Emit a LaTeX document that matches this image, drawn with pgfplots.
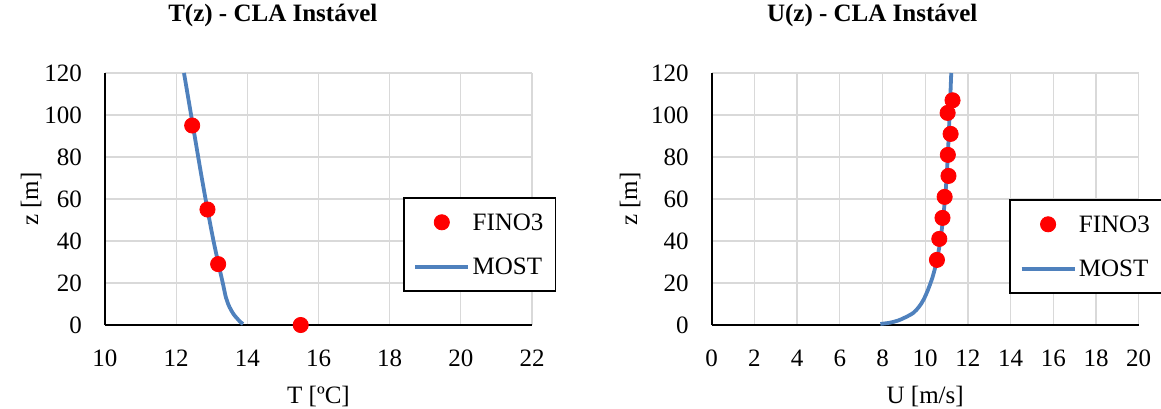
\documentclass[border=0pt]{standalone}
\usepackage{fontspec}
\setmainfont{Liberation Serif}
\usepackage{pgfplots}
\pgfplotsset{compat=1.18}

\definecolor{mostblue}{RGB}{79,129,189}
\definecolor{gridgray}{RGB}{217,217,217}

\newcommand{\chartfont}{\fontsize{12.5}{15}\selectfont}

\pgfplotsset{
  profile/.style={
    scale only axis, width=213.5pt, height=126pt,
    anchor=south west,
    axis lines*=left, axis line style={-, line width=1pt, black},
    ymin=0, ymax=120, ytick={0,20,...,120},
    grid=major, grid style={gridgray, line width=0.65pt},
    major tick length=0pt,
    tick label style={font=\chartfont},
    /pgf/number format/assume math mode=true,
    yticklabel style={xshift=-8pt},
    xticklabel style={yshift=-9pt},
    label style={font=\chartfont},
    ylabel={z [m]},
    title style={font=\bfseries\chartfont, anchor=center},
    xlabel style={at={(0.5,-0.282)}, anchor=center},
    clip=false,
    legend cell align=left,
    legend style={anchor=north west, draw=black, line width=0.9pt, fill=white,
      inner xsep=4.75pt, inner ysep=6.1pt, row sep=10pt,
      nodes={inner xsep=1.25pt, inner ysep=0pt, text height=10.2pt,
        text depth=2pt, font=\chartfont}},
    legend image code/.code={
      \draw[mark repeat=2, mark phase=2, #1]
        plot coordinates {(0cm,0cm) (0.465cm,0cm) (0.93cm,0cm)};},
  },
  fino/.style={only marks, mark=*, mark size=3.8pt, color=red,
    mark options={draw=red, fill=red, line width=0.4pt}},
  most/.style={color=mostblue, line width=1.9pt, smooth, no marks},
}

\begin{document}
\begin{tikzpicture}
\useasboundingbox (0,0) rectangle (580.5pt,204pt);

% Temperature profile
\begin{axis}[profile,
    at={(52.5pt,41.5pt)},
    xmin=10, xmax=22, xtick={10,12,...,22},
    xlabel={T [ºC]},
    ylabel style={at={(-0.173,0.5)}, anchor=center},
    title={T(z) - CLA Instável},
    title style={at={(0.393,1.179)}},
    legend style={at={(0.698,0.508)}},
  ]
  \addlegendimage{fino}
  \addlegendentry{FINO3}
  \addlegendimage{most}
  \addlegendentry{MOST}
  \addplot[most, forget plot] coordinates {
    (13.88,0.5) (13.80,1.5) (13.72,3) (13.62,5) (13.50,8.5) (13.40,13)
    (13.31,20) (13.19,29) (13.05,40) (12.88,55) (12.70,72) (12.47,95)
    (12.22,120)};
  \addplot[fino, forget plot] coordinates {
    (12.45,95) (12.88,55) (13.18,29) (15.5,0)};
\end{axis}

% Wind speed profile
\begin{axis}[profile,
    at={(355.85pt,41.5pt)},
    xmin=0, xmax=20, xtick={0,2,...,20},
    xlabel={U [m/s]},
    ylabel style={at={(-0.191,0.5)}, anchor=center},
    title={U(z) - CLA Instável},
    title style={at={(0.376,1.179)}},
    legend style={at={(0.697,0.5)}},
  ]
  \addplot[fino] coordinates {
    (11.28,107) (11.05,101) (11.19,91) (11.06,81) (11.09,71)
    (10.91,61) (10.81,51) (10.66,41) (10.55,31)};
  \addlegendentry{FINO3}
  \addplot[most] coordinates {
    (7.9,0.5) (8.35,1.1) (8.75,2.2) (9.1,3.8) (9.45,5.8) (9.72,8.8)
    (9.92,12) (10.12,16.5) (10.35,23) (10.55,31) (10.72,41) (10.85,52)
    (10.96,64) (11.05,79) (11.13,97) (11.22,120)};
  \addlegendentry{MOST}
\end{axis}
\end{tikzpicture}
\end{document}
